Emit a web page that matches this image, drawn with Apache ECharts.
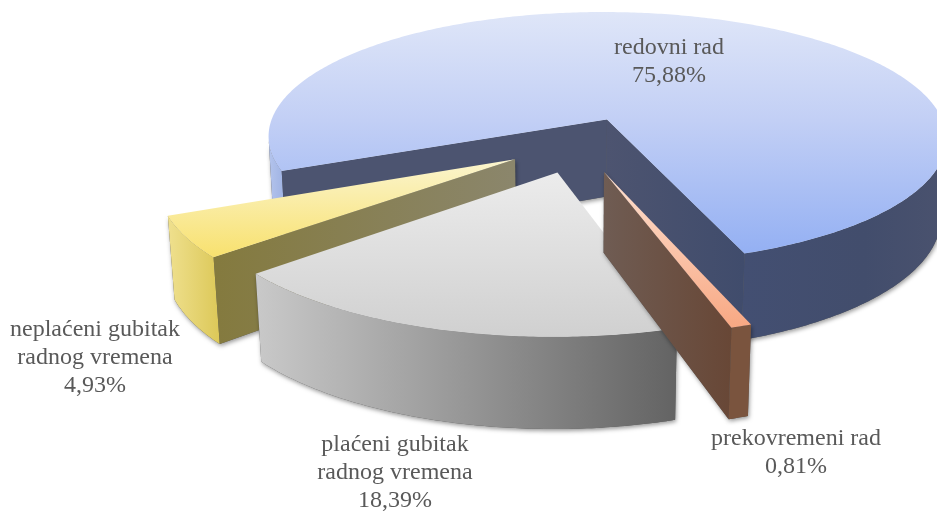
<!DOCTYPE html>
<html><head><meta charset="utf-8">
<style>html,body{margin:0;padding:0;background:#fff;overflow:hidden}#c{width:937px;height:511px}</style>
<script src="https://cdn.jsdelivr.net/npm/echarts@6/dist/echarts.min.js"></script>
</head><body><div id="c"></div>
<script>
const categories = ['redovni rad', 'prekovremeni rad', 'plaćeni gubitak\nradnog vremena', 'neplaćeni gubitak\nradnog vremena'];
const shares = [75.88, 0.81, 18.39, 4.93];

// view settings
const CX = 579, CY = 144, RAD = 345, DIST = 6.2, TILT = 22.2 * Math.PI / 180, DEPTH = 0.25;
const START = -66.8;
const explode = [0.21, 0.22, 0.22, 0.215];
const layer = [0, 3, 2, 1];
const labelAt = [[669, 62], [796, 453], [395, 473], [95, 358]];
const lin = (x0, y0, x1, y1, stops) => ({type: 'linear', x: x0, y: y0, x2: x1, y2: y1,
  colorStops: stops.map(s => ({offset: s[0], color: s[1]}))});
const paint = [
  {top: lin(0,0,0,1,[[0,'#dfe6f8'],[0.45,'#c2cff5'],[1,'#94b0f3']]),
   walls: [lin(0,0,1,0,[[0,'#b4c4ec'],[1,'#9cb0e2']]), lin(0,0,1,0,[[0,'#434f72'],[0.6,'#424d6c'],[1,'#4a526e']])],
   cutA: '#4c5470', cutB: lin(0,0,1,0,[[0,'#4d5470'],[1,'#404c6c']])},
  {top: lin(0,0,0,1,[[0,'#fde0d0'],[1,'#f8a883']]),
   walls: ['#7a543e'], cutA: '#7a543e', cutB: lin(0,0,1,0,[[0,'#6f5c53'],[1,'#684736']])},
  {top: lin(0,0,0,1,[[0,'#ececec'],[1,'#d0d0d0']]),
   walls: [lin(0,0,1,0,[[0,'#c9c9c9'],[1,'#636363']])], cutA: '#c9c9c9', cutB: '#636363'},
  {top: lin(0,0,0,1,[[0,'#fbf5cf'],[1,'#f8e16e']]),
   walls: [lin(0,0,1,0,[[0,'#efe08e'],[1,'#dcc858']])], cutA: lin(0,0,1,0,[[0,'#847a3e'],[1,'#8b866c']]), cutB: '#efe08e'}
];

const rad = d => d * Math.PI / 180;
function project(X, Y, Z) {
  const d = DIST - Y * Math.cos(TILT) - Z * Math.sin(TILT);
  const f = RAD * DIST;
  return [CX + f * X / d, CY + f * (Y * Math.sin(TILT) - Z * Math.cos(TILT)) / d];
}
function sweep(i) {
  const total = shares.reduce((a, b) => a + b, 0);
  let used = 0;
  for (let j = 0; j < i; j++) used += shares[j];
  return [START - used / total * 360, START - (used + shares[i]) / total * 360];
}
function turning(pts) {
  let s = 0;
  pts.forEach((p, k) => { const q = pts[(k + 1) % pts.length]; s += p[0] * q[1] - q[0] * p[1]; });
  return s;
}
function render(params, api) {
  const i = api.value(1);
  const [a0, a1] = sweep(i);
  const mid = (a0 + a1) / 2;
  const ox = Math.sin(rad(mid)) * explode[i], oy = Math.cos(rad(mid)) * explode[i];
  const steps = Math.max(4, Math.ceil((a0 - a1) * 1.5));
  const rim = [];
  const facing = [];
  const camY = DIST * Math.cos(TILT);
  for (let s = 0; s <= steps; s++) {
    const p = rad(a0 + (a1 - a0) * s / steps);
    const q = [ox + Math.sin(p), oy + Math.cos(p)];
    rim.push(q);
    facing.push(-q[0] * Math.sin(p) + (camY - q[1]) * Math.cos(p) > 0);
  }
  const up = rim.map(q => project(q[0], q[1], 0));
  const low = rim.map(q => project(q[0], q[1], -DEPTH));
  const hubT = project(ox, oy, 0), hubB = project(ox, oy, -DEPTH);
  const z = layer[i] * 10;
  const pg = (points, fill, k, extra) => ({
    type: 'polygon', z2: z + k, shape: {points},
    style: Object.assign({fill, stroke: null}, extra || {})
  });
  const shadow = {shadowColor: 'rgba(0,0,0,0.4)', shadowBlur: 4, shadowOffsetX: 1, shadowOffsetY: 2};
  const faceA = [hubT, up[0], low[0], hubB];
  const faceB = [hubT, up[steps], low[steps], hubB];
  const children = [];
  const add = (points, fill, k) => {
    children.push(pg(points, '#555', 0, shadow));
    children.push(pg(points, fill, k));
  };
  let run = null, runs = 0;
  for (let s = 0; s <= steps + 1; s++) {
    if (s <= steps && facing[s]) {
      run = run || [];
      run.push(s);
    } else if (run) {
      const top = run.map(k => up[k]);
      const bottom = run.map(k => low[k]).reverse();
      add(top.concat(bottom), paint[i].walls[runs] || paint[i].walls[0], 1);
      runs++;
      run = null;
    }
  }
  if (turning(faceA) < 0) add(faceA, paint[i].cutA, 2);
  if (turning(faceB) > 0) add(faceB, paint[i].cutB, 3);
  children.push(pg([hubT].concat(up), paint[i].top, 4));
  children.push({
    type: 'text', z2: 100,
    style: {x: labelAt[i][0], y: labelAt[i][1],
      text: categories[i] + '\n' + shares[i].toFixed(2).replace('.', ',') + '%',
      font: '24px "Liberation Serif"', lineHeight: 28, fill: '#595959',
      align: 'center', verticalAlign: 'middle'}
  });
  return {type: 'group', children};
}
const chart = echarts.init(document.getElementById('c'), null, {renderer: 'canvas'});
chart.setOption({
  animation: false,
  backgroundColor: '#fff',
  series: [{
    type: 'custom', coordinateSystem: 'none', silent: true, clip: false,
    renderItem: render,
    data: shares.map((v, i) => [v, i])
  }]
});
</script></body></html>
